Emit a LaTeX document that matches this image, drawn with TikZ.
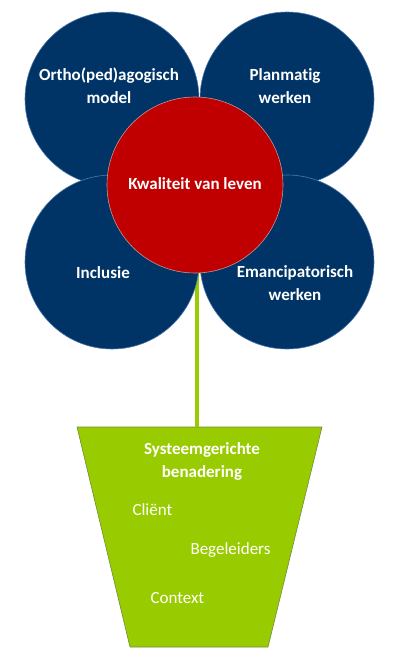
\documentclass[tikz,border=0pt]{standalone}
\usepackage{fontspec}
\setmainfont[Ligatures=NoCommon]{Carlito}
\definecolor{petal}{RGB}{0,51,102}
\definecolor{petaledge}{RGB}{80,120,170}
\definecolor{heart}{RGB}{192,0,0}
\definecolor{heartedge}{RGB}{190,150,150}
\definecolor{leaf}{RGB}{153,204,0}
\definecolor{potedge}{RGB}{110,140,60}
\begin{document}
\begin{tikzpicture}[x=1pt,y=-1pt,
  petalc/.style={circle,fill=petal,draw=petaledge,line width=0.6pt,minimum size=174pt,inner sep=0pt},
  heartc/.style={circle,fill=heart,draw=heartedge,line width=0.6pt,minimum size=176pt,inner sep=0pt},
  ptext/.style={text=white,font=\bfseries\fontsize{17}{23}\selectfont,align=center},
  pottext/.style={text=white,font=\fontsize{17}{20}\selectfont,anchor=west}]
\useasboundingbox (0,0) rectangle (401,664);
% stem
\coordinate (stemtop) at (197,270);
% pot
\path[fill=leaf,draw=potedge,line width=0.6pt] (77,427) coordinate (p1) -- (322,427) coordinate (p2) -- (268,647) coordinate (p3) -- (130,647) coordinate (p4) -- cycle;
\coordinate (pottop) at (197,427);
\draw[leaf,line width=3.5pt] (stemtop) -- (pottop);
% petals
\node[petalc] (tl) at (112,99) {};
\node[petalc] (tr) at (287,99) {};
\node[petalc] (bl) at (112,262) {};
\node[petalc] (br) at (287,262) {};
\node[heartc] (c) at (195,185) {};
% labels
\node[ptext] (ltl) at (109,86) {Ortho(ped)agogisch\\model};
\node[ptext] (ltr) at (285,86) {Planmatig\\werken};
\node[ptext] (lbl) at (103,273) {Inclusie};
\node[ptext] (lbr) at (295,283) {Emancipatorisch\\werken};
\node[ptext] (lc) at (195,184) {Kwaliteit van leven};
\node[ptext] (ls) at (202,461) {Systeemgerichte\\benadering};
\node[pottext] (l1) at (129,510) {Cliënt};
\node[pottext] (l2) at (187,550) {Begeleiders};
\node[pottext] (l3) at (147,598) {Context};
\end{tikzpicture}
\end{document}
